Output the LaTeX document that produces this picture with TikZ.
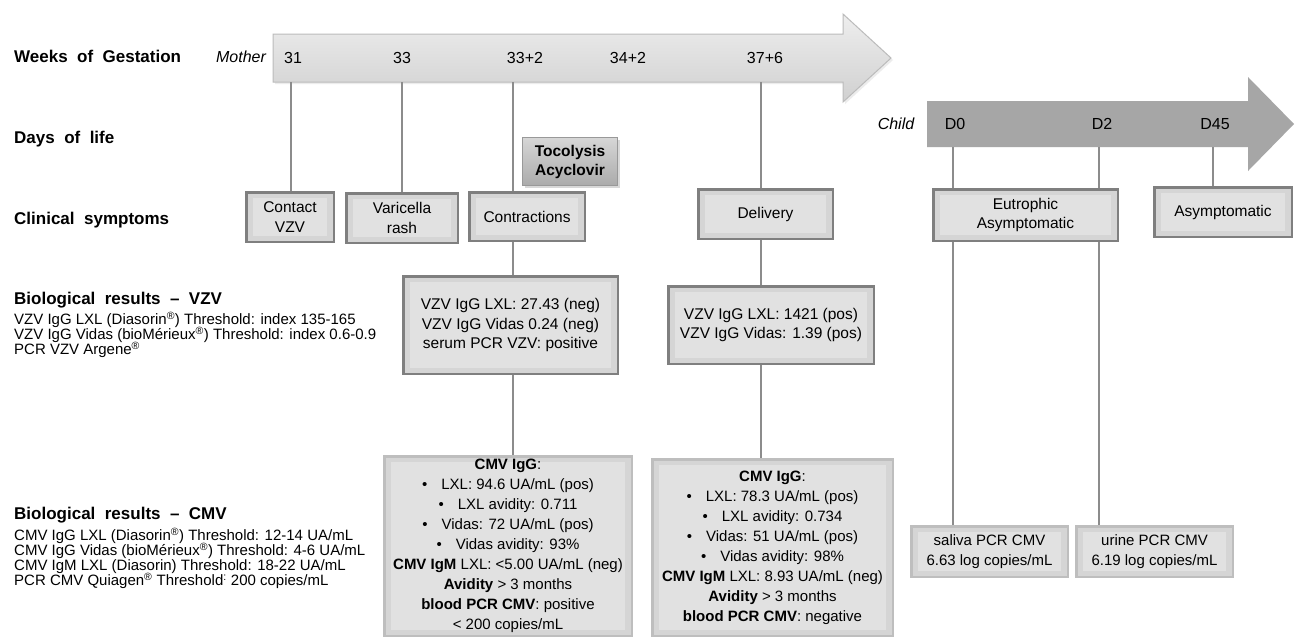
\documentclass[tikz,border=0pt]{standalone}
\usepackage{fontspec}
\setmainfont{Liberation Sans}
\usetikzlibrary{shadows}

\definecolor{boxfill}{HTML}{D5D5D5}
\definecolor{boxinner}{HTML}{E1E1E1}
\definecolor{edgedark}{HTML}{7F7F7F}
\definecolor{edgelight}{HTML}{BEBEBE}
\definecolor{linkgray}{HTML}{8C8C8C}
\definecolor{childgray}{HTML}{A6A6A6}
\definecolor{mumtop}{HTML}{EEEEEE}
\definecolor{mumbottom}{HTML}{D0D0D0}
\definecolor{mumedge}{HTML}{BBBBBB}
\definecolor{treattop}{HTML}{D6D6D6}
\definecolor{treatbottom}{HTML}{ABABAB}

\newcommand{\tightlines}{\lineskiplimit-20pt\relax}

\tikzset{
    rowlabel/.style = {anchor=west, inner sep=0pt, text depth=0pt, font=\fontsize{17}{20}\selectfont\bfseries},
    legend/.style = {anchor=north west, inner sep=0pt, align=left,
        font=\fontsize{15}{15}\selectfont\tightlines},
    tick/.style = {inner sep=0pt, text depth=0pt, font=\fontsize{16}{18}\selectfont},
    who/.style = {tick, font=\fontsize{16}{18}\selectfont\itshape},
    event/.style = {draw=edgedark, line width=2.5pt, fill=boxfill, align=center, inner sep=0pt,
        font=\fontsize{15.5}{19.5}\selectfont,
        drop shadow={opacity=0.2, shadow xshift=1.5pt, shadow yshift=-1.5pt},
        path picture={\fill[boxinner] ([shift={(7pt,-6pt)}]path picture bounding box.north west)
            rectangle ([shift={(-7pt,6pt)}]path picture bounding box.south east);}},
    result/.style = {event, draw=edgelight, font=\fontsize{15}{20}\selectfont},
    treat/.style = {draw=edgedark!80, line width=0.8pt, top color=treattop, bottom color=treatbottom,
        align=center, inner sep=0pt, font=\fontsize{15.5}{19}\selectfont\bfseries,
        drop shadow={opacity=0.3, shadow xshift=2pt, shadow yshift=-2pt}},
    link/.style = {draw=linkgray, line width=1.3pt}
}

\begin{document}
\begin{tikzpicture}[x=1pt, y=-1pt]
    \path[fill=white, use as bounding box] (0,0) rectangle (1295,641);

    % time arrows
    \path[draw=mumedge, line width=1pt, top color=mumtop, bottom color=mumbottom,
          drop shadow={opacity=0.15, shadow xshift=2pt, shadow yshift=-2pt}]
        (273,34) -- (843,34) -- (843,14) -- (891,58) -- (843,102) -- (843,82) -- (273,82) -- cycle;
    \path[fill=childgray]
        (927,101) -- (1248,101) -- (1248,77) -- (1294,124) -- (1248,171) -- (1248,147) -- (927,147) -- cycle;

    % row labels
    \node[rowlabel] (weeks) at (14,56) {Weeks~ of~ Gestation};
    \node[rowlabel] (days) at (14,137) {Days~ of~ life};
    \node[rowlabel] (clinical) at (14,218) {Clinical~ symptoms};
    \node[rowlabel] (vzvhead) at (14,298) {Biological~ results~ –~ VZV};
    \node[legend] (vzvlegend) at (14,312) {VZV IgG LXL (Diasorin\textsuperscript{®}) Threshold: index 135-165\\
        VZV IgG Vidas (bioMérieux\textsuperscript{®}) Threshold: index 0.6-0.9\\
        PCR VZV Argene\textsuperscript{®}};
    \node[rowlabel] (cmvhead) at (14,513) {Biological~ results~ –~ CMV};
    \node[legend] (cmvlegend) at (14,528) {CMV IgG LXL (Diasorin\textsuperscript{®}) Threshold: 12-14 UA/mL\\
        CMV IgG Vidas (bioMérieux\textsuperscript{®}) Threshold: 4-6 UA/mL\\
        CMV IgM LXL (Diasorin) Threshold: 18-22 UA/mL\\
        PCR CMV Quiagen\textsuperscript{®} Threshold\textsuperscript{:} 200 copies/mL};

    % weeks and days
    \node[who] (mother) at (241,57) {Mother};
    \node[tick] (w31) at (293,58) {31};
    \node[tick] (w33) at (402,58) {33};
    \node[tick] (w332) at (525,58) {33+2};
    \node[tick] (w342) at (628,58) {34+2};
    \node[tick] (w376) at (765,58) {37+6};
    \node[who] (child) at (896,124) {Child};
    \node[tick] (d0) at (955,124) {D0};
    \node[tick] (d2) at (1102,124) {D2};
    \node[tick] (d45) at (1215,124) {D45};

    \coordinate (drop31) at (291,82);
    \coordinate (drop33) at (402,82);
    \coordinate (drop332) at (513,82);
    \coordinate (drop376) at (761,82);
    \coordinate (dropd0) at (953,147);
    \coordinate (dropd2) at (1099,147);
    \coordinate (dropd45) at (1213,147);

    % clinical symptoms
    \node[event, minimum width=87.5pt, minimum height=49.5pt] (contact) at (290,217) {Contact\\VZV};
    \node[event, minimum width=111.5pt, minimum height=49.5pt] (varicella) at (402,218) {Varicella\\rash};
    \node[event, minimum width=115.5pt, minimum height=48.5pt] (contractions) at (527,216.5) {Contractions};
    \node[treat, minimum width=95pt, minimum height=48pt] (tocolysis) at (570,161.5) {Tocolysis\\Acyclovir};
    \node[event, minimum width=134.5pt, minimum height=49.5pt] (delivery) at (765.5,214) {Delivery};
    \node[event, minimum width=184.5pt, minimum height=51.5pt] (eutrophic) at (1025.5,215) {Eutrophic\\Asymptomatic};
    \node[event, minimum width=137.5pt, minimum height=49.5pt] (asympto) at (1223,212) {Asymptomatic};

    % biological results VZV
    \node[event, minimum width=214.5pt, minimum height=97.5pt] (vzvone) at (510.5,325)
        {VZV IgG LXL: 27.43 (neg)\\VZV IgG Vidas 0.24 (neg)\\serum PCR VZV: positive};
    \node[event, minimum width=205.5pt, minimum height=77.5pt] (vzvtwo) at (771,325)
        {VZV IgG LXL: 1421 (pos)\\VZV IgG Vidas: 1.39 (pos)};

    % biological results CMV
    \node[result, minimum width=247.5pt, minimum height=179.5pt] (cmvone) at (508,546)
        {\textbf{CMV IgG}:\\
        •\hspace{14pt}LXL: 94.6 UA/mL (pos)\\
        •\hspace{14pt}LXL avidity: 0.711\\
        •\hspace{14pt}Vidas: 72 UA/mL (pos)\\
        •\hspace{14pt}Vidas avidity: 93\%\\
        \textbf{CMV IgM} LXL: <5.00 UA/mL (neg)\\
        \textbf{Avidity} > 3 months\\
        \textbf{blood PCR CMV}: positive\\
        < 200 copies/mL};
    \node[result, minimum width=240.5pt, minimum height=176.5pt] (cmvtwo) at (772.5,547.5)
        {\textbf{CMV IgG}:\\
        •\hspace{14pt}LXL: 78.3 UA/mL (pos)\\
        •\hspace{14pt}LXL avidity: 0.734\\
        •\hspace{14pt}Vidas: 51 UA/mL (pos)\\
        •\hspace{14pt}Vidas avidity: 98\%\\
        \textbf{CMV IgM} LXL: 8.93 UA/mL (neg)\\
        \textbf{Avidity} > 3 months\\
        \textbf{blood PCR CMV}: negative};
    \node[result, minimum width=156.5pt, minimum height=50.5pt] (saliva) at (989.5,551.5)
        {saliva PCR CMV\\6.63 log copies/mL};
    \node[result, minimum width=156.5pt, minimum height=50.5pt] (urine) at (1154.5,551.5)
        {urine PCR CMV\\6.19 log copies/mL};

    % connectors
    \draw[link] (drop31) -- (drop31 |- contact.north);
    \draw[link] (drop33) -- (drop33 |- varicella.north);
    \draw[link] (drop332) -- (drop332 |- contractions.north);
    \draw[link] (drop332 |- contractions.south) -- (drop332 |- vzvone.north);
    \draw[link] (drop332 |- vzvone.south) -- (drop332 |- cmvone.north);
    \draw[link] (drop376) -- (drop376 |- delivery.north);
    \draw[link] (drop376 |- delivery.south) -- (drop376 |- vzvtwo.north);
    \draw[link] (drop376 |- vzvtwo.south) -- (drop376 |- cmvtwo.north);
    \draw[link] (dropd0) -- (dropd0 |- eutrophic.north);
    \draw[link] (dropd0 |- eutrophic.south) -- (dropd0 |- saliva.north);
    \draw[link] (dropd2) -- (dropd2 |- eutrophic.north);
    \draw[link] (dropd2 |- eutrophic.south) -- (dropd2 |- urine.north);
    \draw[link] (dropd45) -- (dropd45 |- asympto.north);
\end{tikzpicture}
\end{document}
